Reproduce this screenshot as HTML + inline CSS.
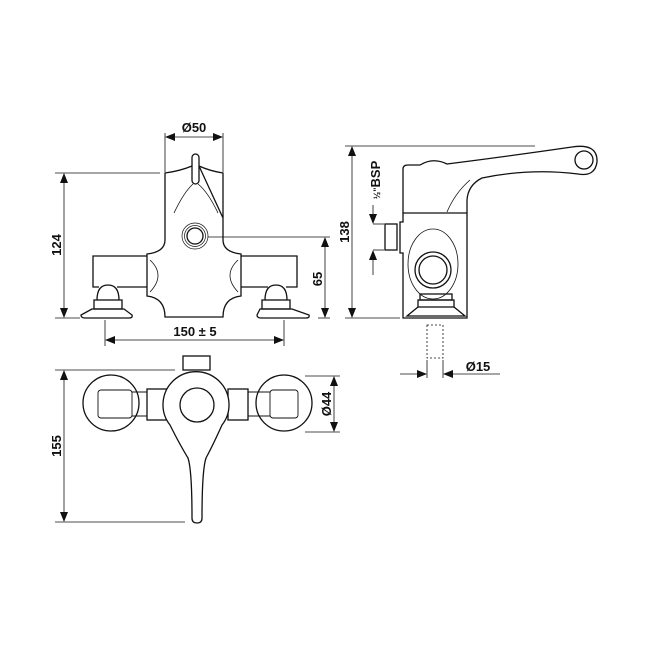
<!DOCTYPE html>
<html><head><style>body{margin:0;background:#fff}svg{display:block}text{font-family:"Liberation Sans",sans-serif;font-weight:bold;font-size:13px;fill:#111}</style></head>
<body>
<svg width="650" height="650" viewBox="0 0 650 650" xmlns="http://www.w3.org/2000/svg">
<defs><marker id="a" markerWidth="10" markerHeight="8" refX="9" refY="4" orient="auto" markerUnits="userSpaceOnUse"><path d="M0,0 L10,4 L0,8 z" fill="#111"/></marker></defs>
<g fill="none" stroke="#111" stroke-width="1.3">
<!-- FRONT VIEW -->
<path d="M165,218 V173 Q180,171 192,166 M199,166 Q210,171 223,173 V218 Z"/>
<rect x="192" y="154" width="7" height="30" rx="3.5" fill="#fff"/>
<path d="M174,213 Q184,192 193,184 M198,184 Q208,192 218,213" stroke-width="0.8"/>
<circle cx="195" cy="236" r="13" stroke-width="0.7"/><circle cx="195" cy="236" r="10.5" stroke-width="0.7"/><circle cx="195" cy="236" r="8"/>
<path d="M165,218 V240 Q165,252 147,254 V296 Q165,298 165,317 H223 Q223,298 241,296 V254 Q223,252 223,240 V218"/>
<path d="M147,256 H93 V287 H99 M117,287 H147 M241,256 H297 V287 H286 M268,287 H241"/>
<path d="M150,260 Q166,275 150,292 M238,260 Q222,275 238,292" stroke-width="0.8"/>
<path d="M97,300 Q97,285 108,285 Q119,285 119,300 M265,300 Q265,285 276,285 Q287,285 287,300"/>
<rect x="94" y="300" width="28" height="9"/><rect x="262" y="300" width="28" height="9"/>
<path d="M92,309 L81,315 Q81,318 85,318 H129 Q133,318 132,315 L124,309 Z M260,309 L257,315 Q257,318 261,318 H306 Q310,318 309,315 L292,309 Z"/>
<!-- dims front -->
<g stroke-width="0.8">
<line x1="165" y1="133" x2="165" y2="172"/><line x1="223" y1="133" x2="223" y2="172"/>
<line x1="55" y1="173" x2="160" y2="173"/><line x1="55" y1="318" x2="80" y2="318"/>
<line x1="208" y1="237" x2="330" y2="237"/><line x1="318" y1="318" x2="330" y2="318"/>
<line x1="105" y1="320" x2="105" y2="346"/><line x1="284" y1="320" x2="284" y2="346"/>
</g>
<line x1="195" y1="137" x2="166" y2="137" marker-end="url(#a)" stroke-width="0.8"/><line x1="195" y1="137" x2="222" y2="137" marker-end="url(#a)" stroke-width="0.8"/>
<line x1="64" y1="245" x2="64" y2="174" marker-end="url(#a)" stroke-width="0.8"/><line x1="64" y1="245" x2="64" y2="317" marker-end="url(#a)" stroke-width="0.8"/>
<line x1="325" y1="280" x2="325" y2="238" marker-end="url(#a)" stroke-width="0.8"/><line x1="325" y1="280" x2="325" y2="317" marker-end="url(#a)" stroke-width="0.8"/>
<line x1="195" y1="340" x2="106" y2="340" marker-end="url(#a)" stroke-width="0.8"/><line x1="195" y1="340" x2="283" y2="340" marker-end="url(#a)" stroke-width="0.8"/>
<!-- SIDE VIEW -->
<path d="M403,213 V169 Q403,165 408,165 H420 Q433,157 447,164 Q510,156 572,147 Q598,143 597,162 Q595,177 578,174 Q530,168 482,178 Q468,185 467,200 V213"/>
<circle cx="584" cy="160" r="9"/>
<path d="M470,180 Q455,193 447,212" stroke-width="0.8"/>
<path d="M403,213 H467 V318 H403 V253 H400 V222 H403 Z"/>
<rect x="385" y="224" width="12" height="26"/>
<ellipse cx="433" cy="264" rx="25" ry="35" stroke-width="0.8"/>
<circle cx="433" cy="270" r="18"/><circle cx="433" cy="270" r="14"/>
<rect x="420" y="294" width="32" height="6"/><rect x="418" y="300" width="36" height="7"/>
<path d="M418,307 L407,316 H465 L454,307"/>
<rect x="427" y="325" width="16" height="33" stroke-dasharray="2,2" stroke-width="0.8"/>
<g stroke-width="0.8">
<line x1="345" y1="146" x2="535" y2="146"/><line x1="345" y1="318" x2="400" y2="318"/>
<line x1="373" y1="224" x2="384" y2="224"/><line x1="373" y1="250" x2="384" y2="250"/>
<line x1="427" y1="360" x2="427" y2="378"/><line x1="443" y1="360" x2="443" y2="378"/>
</g>
<line x1="352" y1="230" x2="352" y2="147" marker-end="url(#a)" stroke-width="0.8"/><line x1="352" y1="230" x2="352" y2="317" marker-end="url(#a)" stroke-width="0.8"/>
<line x1="373" y1="205" x2="373" y2="223" marker-end="url(#a)" stroke-width="0.8"/><line x1="373" y1="275" x2="373" y2="251" marker-end="url(#a)" stroke-width="0.8"/>
<line x1="400" y1="374" x2="426" y2="374" marker-end="url(#a)" stroke-width="0.8"/><line x1="500" y1="374" x2="444" y2="374" marker-end="url(#a)" stroke-width="0.8"/>
<!-- TOP VIEW -->
<circle cx="111" cy="403" r="28"/><circle cx="284" cy="403" r="28"/>
<rect x="98" y="390" width="34" height="28" rx="3" stroke-width="0.9"/><rect x="270" y="390" width="28" height="28" rx="3" stroke-width="0.9"/>
<path d="M132,392 H147 M132,416 H147 M248,392 H270 M248,416 H270" stroke-width="1"/>
<rect x="147" y="389" width="20" height="31"/><rect x="228" y="389" width="20" height="31"/>
<rect x="183" y="356" width="27" height="14"/>
<path d="M170,425 A33,33 0 1 1 222,425 Q213,445 206,458 Q202,470 202,518 Q202,523 197,523 Q192,523 192,518 Q192,470 188,458 Q180,445 170,425 Z" fill="#fff"/>
<circle cx="197" cy="405" r="17"/>
<g stroke-width="0.8">
<line x1="55" y1="370" x2="175" y2="370"/><line x1="55" y1="522" x2="185" y2="522"/>
<line x1="305" y1="376" x2="340" y2="376"/><line x1="305" y1="432" x2="340" y2="432"/>
</g>
<line x1="64" y1="445" x2="64" y2="371" marker-end="url(#a)" stroke-width="0.8"/><line x1="64" y1="445" x2="64" y2="521" marker-end="url(#a)" stroke-width="0.8"/>
<line x1="334" y1="404" x2="334" y2="377" marker-end="url(#a)" stroke-width="0.8"/><line x1="334" y1="404" x2="334" y2="431" marker-end="url(#a)" stroke-width="0.8"/>
</g>
<text x="194" y="132" text-anchor="middle">Ø50</text>
<text transform="translate(61,245) rotate(-90)" text-anchor="middle">124</text>
<text transform="translate(322,279) rotate(-90)" text-anchor="middle">65</text>
<text x="195" y="336" text-anchor="middle">150 ± 5</text>
<text transform="translate(349,232) rotate(-90)" text-anchor="middle">138</text>
<text transform="translate(380,180) rotate(-90)" text-anchor="middle"><tspan font-size="9">½"</tspan>BSP</text>
<text x="478" y="371" text-anchor="middle">Ø15</text>
<text transform="translate(61,446) rotate(-90)" text-anchor="middle">155</text>
<text transform="translate(331,404) rotate(-90)" text-anchor="middle">Ø44</text>
</svg>
</body></html>
